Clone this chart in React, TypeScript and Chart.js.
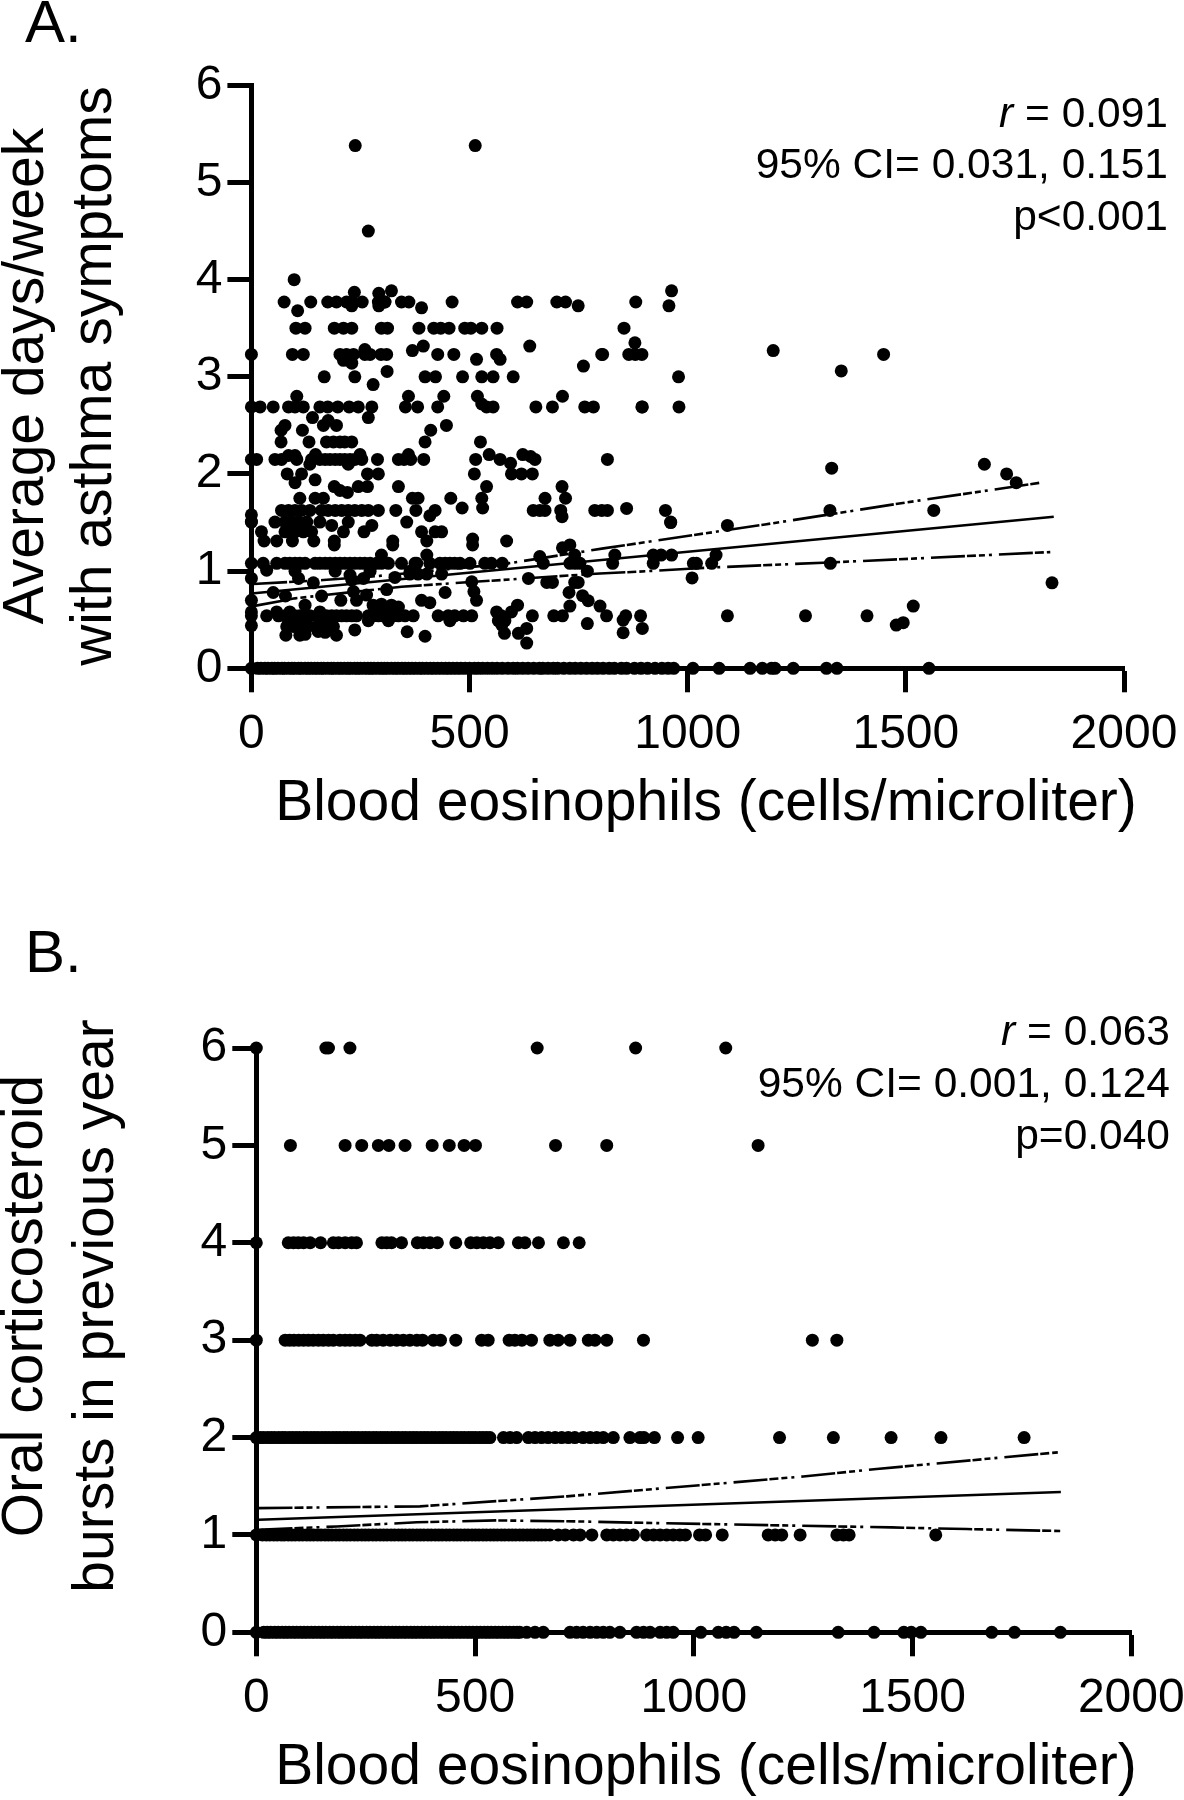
import React, { useEffect, useRef } from "react";
import { Chart, registerables } from "chart.js";

Chart.register(...registerables);

const xTicksMax = 2000;
const yTicksMax = 6;
const xAxisLabel = "Blood eosinophils (cells/microliter)";
const aYTitle = ["Average days/week", "with asthma symptoms"];
const bYTitle = ["Oral corticosteroid", "bursts in previous year"];
const aStats = ["= 0.091", "95% CI= 0.031, 0.151", "p<0.001"];
const bStats = ["= 0.063", "95% CI= 0.001, 0.124", "p=0.040"];

// Panel A: points on repeated levels (x values per y level)
const aX377 = [75, 136, 175, 195, 218, 231, 254, 291, 306, 344, 361, 460, 610, 631, 700, 720, 881];
const aX350 = [102, 123, 190, 211, 230, 298, 312, 384, 418, 434, 453, 489, 503, 528, 563, 854];
const aX323 = [0, 94, 119, 203, 218, 234, 260, 272, 297, 310, 427, 464, 562, 803, 805, 865, 880, 895, 1449];
const aX300 = [167, 237, 398, 422, 484, 528, 554, 600, 979];
const aX269 = [0, 20, 50, 85, 100, 119, 157, 175, 198, 224, 245, 276, 353, 381, 427, 539, 554, 652, 690, 764, 784, 896, 980];
const aX233 = [68, 132, 172, 188, 203, 214, 230, 398, 525];
const aX215 = [0, 12, 54, 69, 104, 138, 157, 169, 180, 192, 203, 214, 226, 237, 253, 289, 337, 350, 365, 395, 514, 570, 816];
const aX200 = [82, 115, 266, 291, 511, 596, 619, 644];
const aX187 = [190, 245, 266, 337, 539, 712];
const aX175 = [111, 146, 165, 369, 382, 457, 528, 673, 720];
const aX162 = [69, 85, 100, 115, 134, 161, 176, 192, 207, 222, 237, 253, 268, 291, 331, 377, 421, 646, 661, 673, 709, 787, 803, 816, 949, 1326, 1564];
const aX150 = [0, 54, 77, 92, 108, 127, 157, 222, 356, 961];
const aX140 = [23, 77, 100, 119, 138, 211, 258, 390, 421, 436];
const aX131 = [29, 58, 94, 143, 190, 324, 402, 585];
const aX108 = [0, 27, 58, 77, 88, 100, 111, 123, 146, 157, 169, 180, 192, 203, 214, 226, 237, 249, 260, 272, 287, 298, 314, 344, 375, 379, 409, 432, 444, 455, 466, 478, 501, 535, 550, 575, 669, 730, 742, 753, 828, 921, 1013, 1020, 1055, 1327];
const aX054 = [0, 35, 62, 77, 88, 100, 111, 123, 134, 150, 161, 172, 184, 195, 207, 218, 230, 241, 268, 279, 291, 302, 314, 325, 337, 352, 371, 428, 451, 466, 486, 505, 573, 644, 693, 713, 814, 858, 892, 1091, 1270, 1411];
const aX000 = [0, 14, 22, 31, 38, 47, 53, 61, 70, 76, 85, 93, 99, 108, 114, 123, 130, 137, 145, 152, 160, 166, 175, 183, 189, 198, 205, 213, 221, 227, 236, 243, 250, 259, 267, 274, 281, 290, 298, 305, 312, 321, 329, 336, 345, 352, 360, 368, 376, 385, 392, 401, 410, 418, 427, 436, 445, 453, 462, 471, 480, 490, 500, 511, 520, 530, 541, 552, 563, 575, 588, 600, 610, 622, 634, 647, 660, 668, 680, 692, 702, 716, 730, 742, 755, 768, 781, 793, 806, 820, 832, 848, 860, 878, 893, 908, 925, 941, 955, 968, 1012, 1072, 1143, 1171, 1192, 1200, 1242, 1318, 1342, 1553];

// Panel A: points off those levels, read as [x, y]
const aOther: [number, number][] = [
  [238, 5.38], [513, 5.38], [268, 4.5], [98, 4.0], [106, 3.68], [236, 3.87], [230, 3.73], [292, 3.86], [321, 3.885], [292, 3.73], [306, 3.77], [390, 3.71],
  [749, 3.73], [957, 3.73], [963, 3.885], [369, 3.27], [394, 3.316], [516, 3.18], [570, 3.18], [638, 3.316], [211, 3.17], [230, 3.14], [260, 3.28], [879, 3.35], [1196, 3.27], [761, 3.11], [1352, 3.06],
  [279, 2.92], [311, 3.055], [104, 2.8], [268, 2.58], [360, 2.8], [441, 2.8], [518, 2.8], [528, 2.72], [140, 2.58], [713, 2.8], [895, 2.69],
  [77, 2.5], [68, 2.45], [117, 2.45], [165, 2.5], [176, 2.55], [195, 2.5], [411, 2.45], [447, 2.5],
  [85, 2.19], [100, 2.19], [147, 2.2], [249, 2.2], [360, 2.2], [545, 2.2], [594, 2.11], [622, 2.2], [640, 2.18], [650, 2.15], [134, 2.1], [222, 2.1],
  [146, 1.94], [100, 1.91], [203, 1.83], [220, 1.81], [1330, 2.06], [1680, 2.1], [1731, 2.0], [1753, 1.91],
  [409, 1.57], [483, 1.65], [530, 1.65], [860, 1.645], [712, 1.56], [961, 1.5], [1091, 1.47],
  [184, 1.47], [276, 1.47], [507, 1.33], [507, 1.27], [190, 1.27], [324, 1.27], [730, 1.27], [713, 1.24],
  [0, 1.58], [0, 1.51], [0, 0.925], [0, 0.7], [0, 0.58], [0, 0.44],
  [35, 1.01], [298, 1.165], [364, 1.0], [402, 1.165], [661, 1.15], [100, 1.0], [108, 0.925], [192, 1.0], [226, 0.96], [230, 0.91], [257, 0.925], [272, 1.0], [329, 0.935], [142, 0.88], [363, 0.97], [382, 0.97], [402, 0.97], [436, 0.97],
  [741, 1.165], [833, 1.165], [921, 1.165], [939, 1.165], [963, 1.165], [1065, 1.165], [770, 1.0], [1010, 0.93], [677, 0.884], [690, 0.884], [741, 0.884], [749, 0.884], [1835, 0.88],
  [50, 0.78], [78, 0.744], [161, 0.744], [123, 0.65], [205, 0.7], [241, 0.7], [234, 0.79], [264, 0.754], [310, 0.81], [505, 0.89], [510, 0.79], [516, 0.7], [444, 0.78], [390, 0.7], [409, 0.675], [635, 0.925], [728, 0.78], [759, 0.747], [772, 0.695], [799, 0.64], [730, 0.64], [1517, 0.64], [279, 0.65], [298, 0.66], [321, 0.65], [337, 0.63], [283, 0.6], [302, 0.6], [325, 0.6],
  [58, 0.58], [88, 0.58], [157, 0.58], [562, 0.58], [596, 0.58], [610, 0.65],
  [81, 0.43], [96, 0.43], [111, 0.43], [130, 0.43], [150, 0.43], [169, 0.43], [188, 0.43], [237, 0.395], [268, 0.49], [314, 0.49], [455, 0.49], [566, 0.49], [581, 0.49], [574, 0.445], [631, 0.41], [852, 0.496], [770, 0.46], [896, 0.41], [1494, 0.47], [1478, 0.445],
  [79, 0.34], [111, 0.34], [123, 0.35], [153, 0.38], [169, 0.37], [195, 0.34], [357, 0.376], [398, 0.33], [580, 0.36], [612, 0.36], [631, 0.26], [852, 0.366],
];

const aFitX = [0, 1839];
const aFitY = [0.77, 1.56];
const aUpperX = [4, 165, 291, 589, 807, 1177, 1501, 1807];
const aUpperY = [0.867, 0.908, 0.95, 1.08, 1.234, 1.48, 1.707, 1.909];
const aLowerX = [4, 100, 344, 799, 882, 1043, 1414, 1831];
const aLowerY = [0.64, 0.72, 0.84, 0.976, 0.993, 1.035, 1.107, 1.196];

// Panel B: whole-number levels, x values per level
const bX6 = [0, 159, 165, 214, 642, 867, 1073];
const bX5 = [78, 203, 241, 279, 303, 340, 402, 441, 475, 501, 684, 801, 1147];
const bX4 = [0, 73, 85, 96, 108, 123, 147, 176, 188, 203, 218, 229, 287, 298, 309, 332, 368, 382, 397, 414, 456, 490, 504, 519, 534, 553, 599, 614, 645, 702, 738];
const bX3 = [0, 66, 76, 86, 97, 108, 119, 130, 142, 153, 165, 176, 191, 203, 214, 226, 237, 264, 275, 290, 306, 321, 336, 351, 367, 380, 405, 421, 456, 515, 530, 578, 591, 607, 629, 671, 690, 717, 759, 774, 801, 885, 1271, 1327];
const bX2 = [0, 9, 17, 26, 34, 42, 51, 59, 66, 75, 83, 91, 99, 108, 116, 125, 133, 141, 150, 158, 166, 175, 183, 191, 200, 208, 217, 225, 233, 242, 250, 258, 267, 275, 284, 292, 300, 309, 317, 325, 334, 342, 351, 359, 367, 376, 384, 392, 401, 409, 418, 426, 434, 443, 451, 459, 468, 476, 485, 493, 501, 510, 518, 526, 534, 565, 580, 595, 622, 637, 652, 667, 683, 698, 713, 728, 747, 763, 778, 793, 816, 854, 877, 886, 910, 963, 1010, 1196, 1319, 1451, 1565, 1755];
const bX1 = [0, 14, 23, 31, 40, 48, 57, 64, 73, 81, 89, 98, 106, 115, 123, 131, 140, 148, 157, 165, 173, 182, 190, 199, 207, 215, 224, 232, 241, 249, 257, 266, 274, 283, 291, 299, 308, 316, 325, 333, 341, 350, 358, 367, 375, 383, 392, 400, 409, 417, 425, 434, 442, 451, 459, 467, 476, 484, 493, 501, 509, 518, 526, 535, 543, 551, 560, 568, 577, 585, 593, 602, 610, 619, 627, 635, 644, 652, 661, 671, 690, 706, 725, 740, 767, 801, 816, 831, 846, 862, 892, 908, 923, 938, 953, 968, 981, 1013, 1027, 1065, 1170, 1186, 1201, 1243, 1327, 1342, 1355, 1553];
const bX0 = [0, 17, 25, 33, 42, 50, 59, 67, 75, 84, 92, 101, 109, 117, 126, 134, 143, 151, 159, 168, 176, 185, 193, 201, 210, 218, 227, 235, 243, 252, 260, 269, 277, 285, 294, 302, 311, 319, 327, 336, 344, 353, 361, 369, 378, 386, 395, 403, 411, 420, 428, 437, 445, 453, 462, 470, 479, 487, 495, 504, 512, 521, 529, 537, 546, 554, 563, 571, 579, 588, 596, 602, 618, 637, 656, 717, 732, 747, 763, 778, 793, 808, 831, 869, 885, 900, 923, 938, 953, 1016, 1056, 1074, 1092, 1143, 1330, 1412, 1480, 1497, 1519, 1681, 1733, 1838];

const bFitX = [5, 1839];
const bFitY = [1.155, 1.44];
const bUpperX = [5, 374, 710, 1250, 1418, 1832];
const bUpperY = [1.275, 1.293, 1.396, 1.6, 1.677, 1.848];
const bLowerX = [5, 184, 367, 549, 740, 919, 1452, 1624, 1839];
const bLowerY = [1.053, 1.087, 1.13, 1.149, 1.138, 1.121, 1.077, 1.06, 1.04];

const BLACK = "#000000";
const FONT = '"Liberation Sans", Arial, sans-serif';
const DASH = [34, 2, 9, 3, 6, 4, 3, 7];

const level = (xs: number[], y: number) => xs.map((x) => ({ x, y }));
const zip = (xs: number[], ys: number[]) => xs.map((x, i) => ({ x, y: ys[i] }));

const aPoints = [
  ...level(aX377, 3.77), ...level(aX350, 3.5), ...level(aX323, 3.23), ...level(aX300, 3.0),
  ...level(aX269, 2.69), ...level(aX233, 2.33), ...level(aX215, 2.15), ...level(aX200, 2.0),
  ...level(aX187, 1.87), ...level(aX175, 1.75), ...level(aX162, 1.625), ...level(aX150, 1.505),
  ...level(aX140, 1.405), ...level(aX131, 1.31), ...level(aX108, 1.08), ...level(aX054, 0.54),
  ...level(aX000, 0), ...aOther.map(([x, y]) => ({ x, y })),
];
const bPoints = [
  ...level(bX6, 6), ...level(bX5, 5), ...level(bX4, 4), ...level(bX3, 3),
  ...level(bX2, 2), ...level(bX1, 1), ...level(bX0, 0),
];

type PanelText = {
  letter: string; letterY: number; yTitle: string[]; yTitleY: number; yTitleX: number[];
  xTitleY: number; stats: string[]; statsRight: number; statsY: number[];
};

const textPlugin = (p: PanelText) => ({
  id: "panelText",
  afterDraw(chart: any) {
    const c = chart.ctx;
    c.save();
    c.fillStyle = BLACK;
    c.textBaseline = "middle";
    c.textAlign = "left";
    c.font = `60px ${FONT}`;
    c.fillText(p.letter, 25, p.letterY);
    c.textAlign = "center";
    c.font = `57px ${FONT}`;
    c.fillText(xAxisLabel, 706, p.xTitleY);
    p.yTitle.forEach((t, i) => {
      c.save();
      c.translate(p.yTitleX[i], p.yTitleY);
      c.rotate(-Math.PI / 2);
      c.fillText(t, 0, 0);
      c.restore();
    });
    c.textAlign = "right";
    c.font = `42.5px ${FONT}`;
    p.stats.forEach((t, i) => c.fillText(t, p.statsRight, p.statsY[i]));
    const w = c.measureText(" " + p.stats[0]).width;
    c.font = `italic 42.5px ${FONT}`;
    c.fillText("r", p.statsRight - w, p.statsY[0]);
    c.restore();
  },
});

function makeChart(
  canvas: HTMLCanvasElement,
  points: { x: number; y: number }[],
  fit: { x: number; y: number }[],
  upper: { x: number; y: number }[],
  lower: { x: number; y: number }[],
  padding: { left: number; right: number; top: number; bottom: number },
  text: PanelText,
) {
  const lineBase = { showLine: true, pointRadius: 0, borderColor: BLACK, backgroundColor: BLACK, clip: false as const };
  const tickCommon = { color: BLACK, font: { family: FONT, size: 48 }, maxRotation: 0, autoSkip: false, callback: (v: number) => String(v) };
  const grid = { drawOnChartArea: false, drawTicks: true, tickLength: 24, tickWidth: 5, tickColor: BLACK };
  return new Chart(canvas, {
    type: "scatter",
    data: {
      datasets: [
        { label: "points", data: points, pointRadius: 6.5, pointBorderWidth: 0, pointBackgroundColor: BLACK, borderColor: BLACK, clip: false as any },
        { label: "fit", data: fit, borderWidth: 2.6, ...lineBase },
        { label: "upper", data: upper, borderWidth: 2.6, borderDash: DASH, ...lineBase },
        { label: "lower", data: lower, borderWidth: 2.6, borderDash: DASH, ...lineBase },
      ],
    },
    options: {
      animation: false,
      responsive: false,
      maintainAspectRatio: false,
      layout: { padding },
      plugins: { legend: { display: false }, title: { display: false }, tooltip: { enabled: false } },
      scales: {
        x: {
          type: "linear", min: 0, max: xTicksMax,
          border: { display: true, width: 5, color: BLACK },
          grid,
          ticks: { ...tickCommon, stepSize: 500, padding: 14 },
          afterFit: (s: any) => { s.height = 100; s.paddingLeft = 0; s.paddingRight = 0; },
        },
        y: {
          type: "linear", min: 0, max: yTicksMax,
          border: { display: true, width: 5, color: BLACK },
          grid,
          ticks: { ...tickCommon, stepSize: 1, padding: 5 },
          afterFit: (s: any) => { s.width = 100; s.paddingTop = 0; s.paddingBottom = 0; },
        },
      },
    } as any,
    plugins: [textPlugin(text)],
  });
}

export default function App() {
  const aRef = useRef<HTMLCanvasElement>(null);
  const bRef = useRef<HTMLCanvasElement>(null);
  useEffect(() => {
    const a = makeChart(
      aRef.current!, aPoints, zip(aFitX, aFitY), zip(aUpperX, aUpperY), zip(aLowerX, aLowerY),
      { left: 151.4, right: 60, top: 85.3, bottom: 131.7 },
      { letter: "A.", letterY: 25, yTitle: aYTitle, yTitleY: 376, yTitleX: [27, 95], xTitleY: 804, stats: aStats, statsRight: 1168, statsY: [115, 166.5, 218] },
    );
    const b = makeChart(
      bRef.current!, bPoints, zip(bFitX, bFitY), zip(bUpperX, bUpperY), zip(bLowerX, bLowerY),
      { left: 156.3, right: 52.7, top: 148, bottom: 67.7 },
      { letter: "B.", letterY: 55, yTitle: bYTitle, yTitleY: 406, yTitleX: [26, 97], xTitleY: 868, stats: bStats, statsRight: 1170, statsY: [133.5, 185, 237] },
    );
    return () => { a.destroy(); b.destroy(); };
  }, []);
  const style = { position: "absolute" as const, left: 0, display: "block" };
  return (
    <div style={{ position: "absolute", left: 0, top: 0, width: 1184, height: 1800, background: "#fff" }}>
      <canvas ref={aRef} width={1184} height={900} style={{ ...style, top: 0 }} />
      <canvas ref={bRef} width={1184} height={900} style={{ ...style, top: 900 }} />
    </div>
  );
}
